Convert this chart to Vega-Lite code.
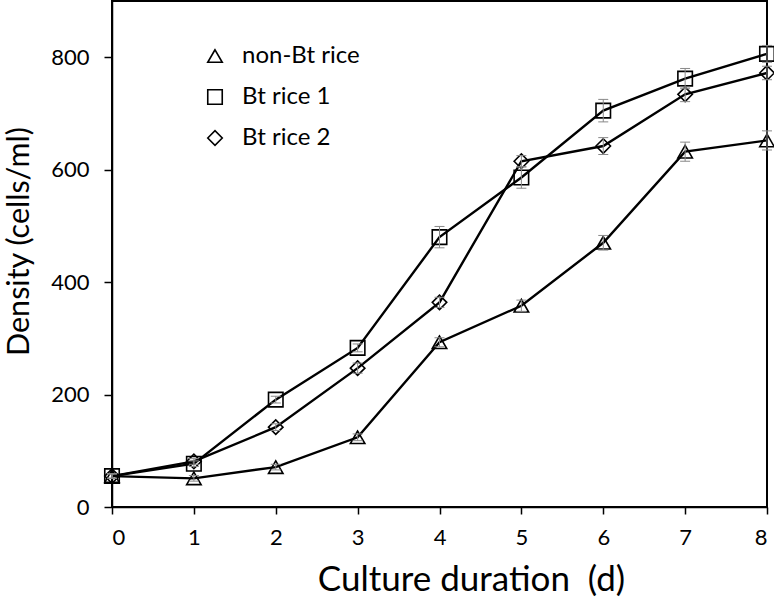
{
  "$schema": "https://vega.github.io/schema/vega-lite/v6.json",
  "width": 655,
  "height": 506,
  "autosize": {"type": "none"},
  "padding": {"left": 112, "top": 1, "right": 7, "bottom": 92},
  "background": "white",
  "config": {
    "view": {"stroke": "#000", "strokeWidth": 2},
    "font": "Lato",
    "axis": {"grid": false, "domainColor": "#000", "domainWidth": 1.5, "tickColor": "#000", "tickWidth": 1.5, "labelColor": "#000", "titleColor": "#000", "labelFont": "Lato", "titleFont": "Lato", "titleFontWeight": "normal"}
  },
  "data": {"values": [
    {"series": "non-Bt rice", "day": 0, "density": 55, "lo": 51, "hi": 59},
    {"series": "non-Bt rice", "day": 1, "density": 51, "lo": 46, "hi": 56},
    {"series": "non-Bt rice", "day": 2, "density": 71, "lo": 66, "hi": 76},
    {"series": "non-Bt rice", "day": 3, "density": 124, "lo": 118, "hi": 130},
    {"series": "non-Bt rice", "day": 4, "density": 293, "lo": 285, "hi": 301},
    {"series": "non-Bt rice", "day": 5, "density": 358, "lo": 348, "hi": 368},
    {"series": "non-Bt rice", "day": 6, "density": 470, "lo": 457, "hi": 483},
    {"series": "non-Bt rice", "day": 7, "density": 632, "lo": 615, "hi": 649},
    {"series": "non-Bt rice", "day": 8, "density": 652, "lo": 635, "hi": 669},
    {"series": "Bt rice 1", "day": 0, "density": 55, "lo": 51, "hi": 59},
    {"series": "Bt rice 1", "day": 1, "density": 77, "lo": 72, "hi": 82},
    {"series": "Bt rice 1", "day": 2, "density": 191, "lo": 185, "hi": 197},
    {"series": "Bt rice 1", "day": 3, "density": 283, "lo": 276, "hi": 290},
    {"series": "Bt rice 1", "day": 4, "density": 480, "lo": 461, "hi": 499},
    {"series": "Bt rice 1", "day": 5, "density": 586, "lo": 567, "hi": 605},
    {"series": "Bt rice 1", "day": 6, "density": 705, "lo": 685, "hi": 725},
    {"series": "Bt rice 1", "day": 7, "density": 762, "lo": 744, "hi": 780},
    {"series": "Bt rice 1", "day": 8, "density": 806, "lo": 791, "hi": 821},
    {"series": "Bt rice 2", "day": 0, "density": 55, "lo": 51, "hi": 59},
    {"series": "Bt rice 2", "day": 1, "density": 81, "lo": 76, "hi": 86},
    {"series": "Bt rice 2", "day": 2, "density": 142, "lo": 136, "hi": 148},
    {"series": "Bt rice 2", "day": 3, "density": 247, "lo": 238, "hi": 256},
    {"series": "Bt rice 2", "day": 4, "density": 364, "lo": 355, "hi": 373},
    {"series": "Bt rice 2", "day": 5, "density": 615, "lo": 605, "hi": 625},
    {"series": "Bt rice 2", "day": 6, "density": 642, "lo": 627, "hi": 657},
    {"series": "Bt rice 2", "day": 7, "density": 734, "lo": 721, "hi": 747},
    {"series": "Bt rice 2", "day": 8, "density": 772, "lo": 760, "hi": 784}
  ]},
  "encoding": {
    "x": {"field": "day", "type": "quantitative",
      "scale": {"domain": [0, 8], "nice": false, "zero": false},
      "axis": {"values": [0, 1, 2, 3, 4, 5, 6, 7, 8], "labelFontSize": 22, "tickSize": 7, "labelPadding": 13,
        "title": "Culture duration\u00a0 (d)", "titleFontSize": 35, "titleX": 359, "titleY": 83, "titleBaseline": "alphabetic", "titleAlign": "center"}},
    "y": {"field": "density", "type": "quantitative",
      "scale": {"domain": [0, 900], "nice": false},
      "axis": {"values": [0, 200, 400, 600, 800], "labelFontSize": 22, "tickSize": 8, "labelPadding": 15,
        "title": "Density (cells/ml)", "titleFontSize": 30.5, "titleX": -84, "titleY": 240, "titleBaseline": "alphabetic", "titleAlign": "center", "titleAngle": -90}}
  },
  "layer": [
    {
      "mark": {"type": "line", "color": "#000", "strokeWidth": 2.4},
      "encoding": {"detail": {"field": "series", "type": "nominal"}}
    },
    {
      "mark": {"type": "point", "filled": false, "color": "#000", "strokeWidth": 1.6, "opacity": 1, "size": 210},
      "encoding": {
        "shape": {"field": "series", "type": "nominal",
          "scale": {"domain": ["non-Bt rice", "Bt rice 1", "Bt rice 2"], "range": ["triangle-up", "square", "diamond"]},
          "legend": {"orient": "none", "legendX": 91, "legendY": 43, "title": null, "padding": 0,
            "symbolSize": 210, "symbolStrokeWidth": 1.6, "symbolStrokeColor": "#000", "symbolOpacity": 1,
            "labelFontSize": 24, "labelOffset": 15, "rowPadding": 17, "labelFont": "Lato", "labelColor": "#000", "labelLimit": 300}}
      }
    },
    {
      "mark": {"type": "rule", "color": "#888", "strokeWidth": 1},
      "encoding": {"y": {"field": "lo", "type": "quantitative"}, "y2": {"field": "hi"}}
    },
    {
      "mark": {"type": "tick", "orient": "horizontal", "size": 10, "thickness": 1, "color": "#888", "opacity": 1},
      "encoding": {"y": {"field": "lo", "type": "quantitative"}}
    },
    {
      "mark": {"type": "tick", "orient": "horizontal", "size": 10, "thickness": 1, "color": "#888", "opacity": 1},
      "encoding": {"y": {"field": "hi", "type": "quantitative"}}
    }
  ]
}
